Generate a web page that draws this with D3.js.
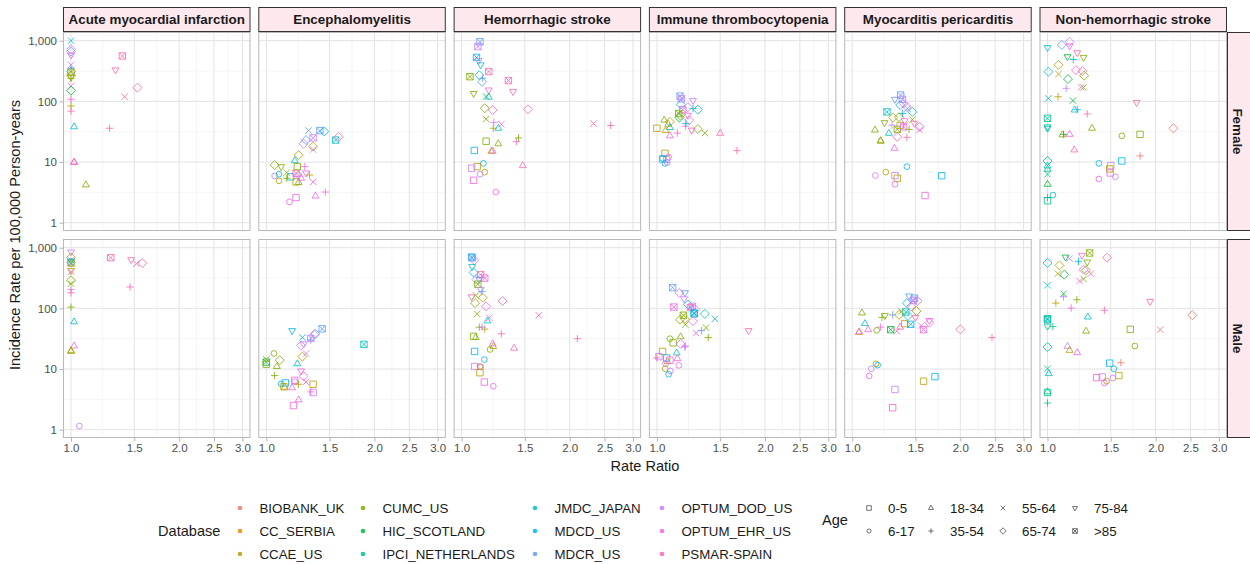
<!DOCTYPE html>
<html>
<head>
<meta charset="utf-8">
<script src="https://cdn.jsdelivr.net/npm/d3@7"></script>
<style>
body { margin: 0; background: white; }
text { font-family: "Liberation Sans", Arial, Helvetica, sans-serif; }
</style>
</head>
<body>
<div id="chart"></div>
<script>
// categories
const outcomes = ["Acute myocardial infarction", "Encephalomyelitis", "Hemorrhagic stroke",
    "Immune thrombocytopenia", "Myocarditis pericarditis", "Non-hemorrhagic stroke"];
const sexes = ["Female", "Male"];
const databases = ["BIOBANK_UK", "CC_SERBIA", "CCAE_US", "CUMC_US", "HIC_SCOTLAND", "IPCI_NETHERLANDS",
    "JMDC_JAPAN", "MDCD_US", "MDCR_US", "OPTUM_DOD_US", "OPTUM_EHR_US", "PSMAR-SPAIN"];
const ageGroups = ["0-5", "6-17", "18-34", "35-54", "55-64", "65-74", "75-84", ">85"];
const xTicks = [1.0, 1.5, 2.0, 2.5, 3.0];
const yTicks = [1, 10, 100, 1000];

// ggplot default hue palette for 12 levels
const dbColors = ["#F8766D", "#DE8C00", "#B79F00", "#7CAE00", "#00BA38", "#00C08B",
    "#00BFC4", "#00B4F0", "#619CFF", "#C77CFF", "#F564E3", "#FF64B0"];

// points: [database index, age group index, rate ratio, incidence rate]
const amiFemale = [[6,4,1.0,1000],[9,5,1.0,720],[8,5,1.0,660],[10,6,1.0,580],[9,4,1.0,400],[8,3,1.0,350],
    [7,5,1.0,310],[2,7,1.0,300],[3,5,1.0,270],[2,6,1.0,250],[3,3,1.0,240],[10,4,1.0,180],[4,5,1.0,150],
    [10,3,1.0,108],[2,3,1.0,84],[11,3,1.0,69],[6,2,1.02,38],[10,2,1.02,10],[11,2,1.02,9.8],[3,2,1.10,4.2],
    [11,3,1.28,36],[11,7,1.39,560],[11,6,1.33,330],[11,4,1.41,119],[11,5,1.53,168]];
const amiMale = [[9,6,1.0,850],[2,5,1.0,690],[8,4,1.0,620],[10,5,1.0,570],[3,7,1.0,560],[6,6,1.0,600],
    [2,6,1.0,420],[10,4,1.0,400],[3,5,1.0,290],[3,4,1.0,255],[9,3,1.0,205],[11,3,1.0,180],[3,3,1.0,105],
    [6,2,1.02,60],[10,2,1.02,24],[3,2,1.0,20],[2,2,1.0,19.5],[9,1,1.055,1.15],[11,7,1.29,685],
    [11,6,1.47,635],[11,4,1.52,545],[11,5,1.58,555],[11,3,1.46,225]];
const encFemale = [[3,5,1.055,8.9],[3,6,1.10,8.4],[9,1,1.055,5.9],[2,1,1.085,4.9],[3,4,1.14,6.7],
    [3,3,1.14,5.4],[6,1,1.085,6.3],[7,0,1.17,5.7],[6,2,1.20,10.5],[2,5,1.23,13],[11,7,1.21,6.5],
    [2,0,1.21,4.7],[3,2,1.23,4.6],[3,0,1.22,8.4],[10,2,1.25,5.4],[9,1,1.23,6.1],[10,6,1.29,6.6],
    [10,3,1.28,8.4],[2,3,1.32,6.1],[10,4,1.35,4.7],[10,1,1.16,2.2],[10,0,1.21,2.6],[10,2,1.37,2.75],
    [10,3,1.46,3.2],[9,5,1.27,20],[8,5,1.29,23],[8,4,1.31,33],[9,7,1.35,25],[9,4,1.35,16],[2,5,1.35,18],
    [8,7,1.41,33],[7,5,1.45,32],[6,7,1.56,23],[11,5,1.59,26]];
const encMale = [[4,7,1.0,13],[3,0,1.0,12],[3,4,1.0,14.5],[3,1,1.05,18],[3,5,1.09,14],[3,2,1.07,11],
    [3,3,1.055,7.8],[7,1,1.10,5.7],[7,0,1.13,5.9],[2,2,1.125,5.0],[2,0,1.12,5.1],[10,2,1.18,4.9],
    [7,6,1.18,43],[6,2,1.22,12.2],[10,0,1.20,6.5],[10,1,1.20,6.2],[2,3,1.23,5.6],[10,6,1.25,9.3],
    [10,5,1.27,7.6],[10,4,1.29,6.1],[2,5,1.26,16],[9,4,1.29,18],[9,5,1.25,24.5],[9,6,1.27,26],
    [7,4,1.26,33],[8,3,1.33,30],[9,7,1.33,32],[9,5,1.36,37],[8,5,1.37,38],[8,7,1.43,46],[10,0,1.19,2.5],
    [10,2,1.23,3.1],[2,0,1.35,5.6],[9,0,1.35,4.1],[10,3,1.33,4.2],[6,7,1.87,25.5]];
const hemFemale = [[8,7,1.125,960],[9,7,1.11,800],[7,7,1.10,530],[9,6,1.115,470],[6,6,1.13,400],
    [11,7,1.19,310],[3,7,1.055,255],[7,5,1.12,270],[8,3,1.145,240],[8,5,1.14,210],[11,7,1.35,220],
    [3,6,1.08,135],[10,6,1.19,154],[11,6,1.39,145],[4,4,1.17,120],[6,2,1.19,117],[3,5,1.16,77],
    [10,5,1.22,72],[11,5,1.53,74],[3,4,1.17,51],[10,4,1.29,42],[9,3,1.23,45],[2,3,1.225,36],
    [6,2,1.265,36],[11,4,2.33,43],[11,3,2.6,40],[3,3,1.44,25],[11,3,1.42,21.6],[3,0,1.17,22],
    [3,2,1.265,20],[2,2,1.21,15],[10,2,1.22,15.2],[7,0,1.085,15.5],[11,2,1.48,8.7],[7,1,1.15,9.5],
    [2,0,1.105,8.4],[9,0,1.066,7.9],[2,1,1.16,6.8],[9,1,1.125,6.3],[10,0,1.08,5.0],[10,1,1.245,3.2]];
const hemMale = [[7,7,1.066,700],[8,7,1.07,680],[9,5,1.085,620],[6,6,1.07,490],[7,5,1.08,390],
    [11,7,1.13,360],[10,7,1.16,315],[9,5,1.10,297],[8,6,1.12,300],[3,7,1.11,250],[9,6,1.13,205],
    [8,3,1.14,190],[11,6,1.066,155],[3,4,1.095,163],[2,5,1.145,150],[3,5,1.09,122],[10,5,1.17,108],
    [11,5,1.30,132],[11,4,1.64,77],[3,4,1.105,81],[10,4,1.195,70],[6,2,1.18,62],[3,3,1.12,49],
    [2,3,1.16,45.5],[9,3,1.14,49],[11,3,1.29,38],[11,3,2.10,31.6],[3,0,1.08,34.5],[3,2,1.095,33],
    [10,2,1.22,26],[2,2,1.225,23.5],[3,1,1.20,21],[11,2,1.40,22],[7,0,1.087,19.5],[7,1,1.157,14.3],
    [9,0,1.087,11],[2,1,1.125,11],[10,1,1.13,10.8],[2,0,1.125,8.7],[10,0,1.157,6.1],[10,1,1.225,5.2]];
const itpFemale = [[8,7,1.16,122],[9,7,1.17,110],[9,6,1.26,103],[7,5,1.165,89],[6,3,1.26,76],
    [7,5,1.30,73],[9,5,1.22,80],[10,7,1.18,73],[10,5,1.23,49],[10,6,1.22,59],[3,5,1.16,59],
    [4,5,1.155,54],[3,7,1.15,63],[3,4,1.36,30],[3,5,1.30,35],[11,6,1.25,33.6],[10,3,1.20,39],
    [6,3,1.205,43],[3,2,1.048,49],[2,2,1.075,42],[2,5,1.087,46],[6,2,1.087,37],[2,0,1.0,36],
    [2,2,1.057,33],[10,2,1.087,27],[10,3,1.14,30],[11,2,1.50,29.7],[11,3,1.67,15.4],[2,0,1.053,13.9],
    [6,1,1.037,11.5],[10,1,1.078,12],[9,0,1.064,11.2],[7,1,1.053,9.5],[9,1,1.068,9.8],[7,0,1.037,11.2]];
const itpMale = [[8,7,1.106,220],[10,5,1.154,179],[8,6,1.197,181],[9,6,1.19,144],[7,5,1.22,116],
    [10,7,1.115,105],[9,7,1.255,108],[9,5,1.28,96],[11,7,1.24,103],[6,7,1.27,81],[7,7,1.27,84],
    [6,5,1.36,81],[6,4,1.45,67],[3,7,1.185,77],[3,5,1.16,65],[2,5,1.197,67],[10,5,1.26,61.5],
    [3,4,1.20,54],[10,4,1.285,39],[3,4,1.37,48],[8,3,1.33,43],[3,3,1.39,33],[11,6,1.80,43],
    [3,2,1.164,34],[3,1,1.087,31.6],[3,0,1.11,27],[10,5,1.164,26],[10,3,1.20,24],[9,3,1.195,23],
    [6,2,1.135,18.4],[2,0,1.037,19.5],[11,3,1.0,15.2],[9,0,1.013,16],[7,0,1.064,15.2],[10,2,1.14,14.8],
    [2,2,1.07,13.2],[10,0,1.087,14],[10,1,1.15,11.5],[9,1,1.057,12.3],[2,1,1.055,10.1],[9,1,1.09,9.3],
    [7,1,1.078,8.2]];
const myoFemale = [[8,7,1.364,127],[8,6,1.315,108],[9,7,1.38,108],[9,5,1.39,92],[7,5,1.36,87],
    [10,5,1.42,81],[6,5,1.47,67],[8,4,1.425,76],[6,7,1.25,67],[7,3,1.38,63],[2,5,1.30,54],[3,5,1.35,55],
    [3,4,1.47,50],[10,6,1.40,48],[3,6,1.23,44.5],[11,6,1.49,43.5],[3,7,1.335,34.5],[10,7,1.39,38],
    [9,3,1.29,40.5],[3,3,1.44,34.5],[2,0,1.36,40],[10,5,1.54,38],[10,4,1.54,33.6],[3,2,1.157,33.6],
    [6,2,1.265,29.7],[11,5,1.335,26],[11,3,1.42,25.5],[2,2,1.20,22.5],[3,2,1.20,22],[10,2,1.31,16.8],
    [7,1,1.42,8.4],[9,1,1.16,6.0],[2,1,1.24,6.8],[9,0,1.315,5.95],[2,0,1.335,5.4],[10,1,1.315,4.3],
    [7,0,1.775,5.95],[10,0,1.595,2.8]];
const myoMale = [[8,6,1.44,160],[8,7,1.49,147],[9,7,1.48,135],[9,5,1.52,132],[7,5,1.42,122],
    [10,5,1.46,108],[6,7,1.41,87],[3,4,1.37,89],[3,5,1.51,90],[3,2,1.064,84],[3,6,1.233,76],
    [3,3,1.21,71],[8,3,1.296,78],[2,5,1.35,78],[6,5,1.43,75],[11,6,1.50,71],[10,6,1.64,63],
    [10,5,1.64,58],[6,2,1.085,56],[2,0,1.40,56],[7,7,1.455,54.5],[10,4,1.555,52],[10,7,1.58,44.5],
    [10,3,1.20,49],[11,2,1.36,49],[4,7,1.28,44.5],[11,4,1.33,42],[3,1,1.17,43.5],[10,2,1.108,44.5],
    [2,2,1.044,40],[10,2,1.046,41],[11,5,2.0,45],[11,3,2.45,33],[2,1,1.164,12.2],[7,1,1.177,11.6],
    [9,1,1.13,10.1],[10,1,1.115,7.7],[7,0,1.70,7.5],[2,0,1.58,6.3],[9,0,1.315,4.6],[10,0,1.296,2.3]];
const nhsFemale = [[6,6,1.0,770],[8,5,1.096,850],[9,5,1.152,960],[10,6,1.152,820],[11,6,1.21,634],
    [4,6,1.137,545],[3,6,1.26,530],[6,3,1.18,490],[2,5,1.073,400],[6,5,1.006,308],[2,4,1.073,282],
    [10,5,1.20,327],[11,5,1.25,316],[4,5,1.14,233],[3,5,1.265,265],[9,3,1.127,164],[10,4,1.24,170],
    [3,4,1.26,170],[6,4,1.006,112],[2,3,1.07,119],[4,4,1.177,103],[6,2,1.19,72],[7,3,1.21,73],
    [11,3,1.29,62],[11,6,1.77,96],[5,7,1.0,52.5],[6,6,1.0,36],[5,6,1.0,38],[3,2,1.33,36],
    [4,3,1.108,28.6],[3,2,1.10,28],[10,2,1.152,28.6],[11,2,1.187,15.8],[3,1,1.61,27],[3,0,1.81,28.6],
    [0,5,2.24,36],[0,3,1.81,12.6],[7,0,1.61,10.4],[7,1,1.39,9.5],[9,0,1.50,8.7],[2,0,1.49,7.7],
    [10,0,1.495,6.6],[10,1,1.39,5.25],[9,1,1.545,5.7],[5,5,1.0,10.4],[6,2,1.0,8.6],[5,2,1.0,7.6],
    [5,4,1.0,6.3],[4,2,1.0,4.3],[5,3,1.0,2.6],[5,0,1.0,2.3],[6,1,1.035,2.85]];
const nhsMale = [[6,5,1.0,560],[4,6,1.123,700],[9,4,1.152,660],[10,6,1.247,750],[3,7,1.31,817],
    [3,6,1.29,580],[11,5,1.464,685],[7,3,1.22,595],[2,5,1.08,511],[2,4,1.069,373],[4,5,1.113,359],
    [10,5,1.26,434],[3,5,1.28,425],[11,4,1.32,373],[10,4,1.228,282],[3,4,1.26,305],[6,4,1.0,240],
    [4,4,1.108,174],[9,3,1.108,155],[2,3,1.055,122],[3,3,1.207,139],[10,3,1.164,101],[11,3,1.44,93],
    [11,6,1.93,130],[0,5,2.53,77],[0,4,2.06,44.5],[6,2,1.295,72],[3,0,1.70,45],[5,7,1.0,67.5],
    [6,7,1.0,65],[5,6,1.0,51],[5,3,1.035,50],[3,2,1.28,42],[3,1,1.75,24],[5,5,1.0,23],[9,2,1.137,23.6],
    [2,2,1.152,20.3],[10,2,1.21,18.6],[5,4,1.0,10.1],[6,2,1.008,8.4],[0,3,1.60,12.7],[7,0,1.49,12.5],
    [7,1,1.53,10.1],[2,0,1.58,7.8],[11,0,1.37,7.2],[9,0,1.42,7.4],[9,1,1.52,7.1],[2,1,1.46,6.3],
    [10,1,1.44,5.9],[5,2,1.0,4.2],[5,0,1.0,4.1],[5,3,1.0,2.75]];

// rows = outcome, columns = sex
const panelRows = [[amiFemale, amiMale], [encFemale, encMale], [hemFemale, hemMale],
    [itpFemale, itpMale], [myoFemale, myoMale], [nhsFemale, nhsMale]];

// layout
const width = 1250;
const height = 564;
const panelLeft = 63;
const panelTop = 32;
const panelW = 187.5;
const panelH = 199;
const gapX = 7.8;
const gapY = 8;
const stripH = 25;
const stripW = 21;
const pointSize = 6.4;

const svg = d3.select("#chart")
    .append("svg").attr("width", width).attr("height", height);

svg.append("rect")
    .attr("width", width)
    .attr("height", height)
    .attr("fill", "white");

const x = d3.scaleLog().domain([0.95, 3.16]).range([0, panelW]);
const y = d3.scaleLog().domain([Math.pow(10, -0.137), Math.pow(10, 3.143)]).range([panelH, 0]);
const color = d3.scaleOrdinal().domain(d3.range(databases.length)).range(dbColors);

// minor breaks half way between majors (log space)
const xMinor = xTicks.slice(1).map((t, i) => Math.sqrt(t * xTicks[i]));
const yMinor = yTicks.slice(1).map((t, i) => Math.sqrt(t * yTicks[i]));

// open point shapes like R pch 0..7
function shapePath(age, s) {
    const h = s / 2;
    const r = s * 0.45;
    const t = s * 0.62;
    const a = s * 0.57;
    const d = h * 1.4;
    switch (age) {
        case 0: return `M${-h},${-h}H${h}V${h}H${-h}Z`;
        case 1: return `M${r},0A${r},${r} 0 1,1 ${-r},0A${r},${r} 0 1,1 ${r},0Z`;
        case 2: return `M0,${-t}L${t * 0.866},${t / 2}L${-t * 0.866},${t / 2}Z`;
        case 3: return `M${-a},0H${a}M0,${-a}V${a}`;
        case 4: return `M${-h},${-h}L${h},${h}M${-h},${h}L${h},${-h}`;
        case 5: return `M0,${-d}L${d},0L0,${d}L${-d},0Z`;
        case 6: return `M0,${t}L${t * 0.866},${-t / 2}L${-t * 0.866},${-t / 2}Z`;
        default: return `M${-h},${-h}H${h}V${h}H${-h}ZM${-h},${-h}L${h},${h}M${-h},${h}L${h},${-h}`;
    }
}

panelRows.forEach((pair, col) => {
    const px = panelLeft + col * (panelW + gapX);

    // strip on top
    svg.append("rect")
        .attr("x", px + 0.5)
        .attr("y", panelTop - stripH + 0.5)
        .attr("width", panelW - 1)
        .attr("height", stripH - 1)
        .attr("fill", "#FDE8EE")
        .attr("stroke", "#333333")
        .attr("stroke-width", 1);
    svg.append("text")
        .attr("x", px + panelW / 2)
        .attr("y", panelTop - stripH / 2)
        .attr("dy", "0.36em")
        .attr("text-anchor", "middle")
        .attr("font-size", "13.4px")
        .attr("font-weight", "bold")
        .attr("fill", "#1a1a1a")
        .text(outcomes[col]);

    pair.forEach((rows, row) => {
        const py = panelTop + row * (panelH + gapY);
        const g = svg.append("g").attr("transform", `translate(${px},${py})`);

        // minor grid
        g.selectAll(".xminor").data(xMinor).join("line")
            .attr("x1", d => x(d)).attr("x2", d => x(d))
            .attr("y1", 0).attr("y2", panelH)
            .attr("stroke", "#EEEEEE").attr("stroke-width", 0.6);
        g.selectAll(".yminor").data(yMinor).join("line")
            .attr("x1", 0).attr("x2", panelW)
            .attr("y1", d => y(d)).attr("y2", d => y(d))
            .attr("stroke", "#EEEEEE").attr("stroke-width", 0.6);

        // major grid
        g.selectAll(".xmajor").data(xTicks).join("line")
            .attr("x1", d => x(d)).attr("x2", d => x(d))
            .attr("y1", 0).attr("y2", panelH)
            .attr("stroke", "#E3E3E3").attr("stroke-width", 1);
        g.selectAll(".ymajor").data(yTicks).join("line")
            .attr("x1", 0).attr("x2", panelW)
            .attr("y1", d => y(d)).attr("y2", d => y(d))
            .attr("stroke", "#E3E3E3").attr("stroke-width", 1);

        // points
        g.selectAll(".pt").data(rows).join("path")
            .attr("transform", d => `translate(${x(d[2])},${y(d[3])})`)
            .attr("d", d => shapePath(d[1], pointSize))
            .attr("fill", "none")
            .attr("stroke", d => color(d[0]))
            .attr("stroke-width", 0.95)
            .attr("stroke-opacity", 0.85);

        // panel border
        g.append("rect")
            .attr("x", 0.5).attr("y", 0.5)
            .attr("width", panelW - 1).attr("height", panelH - 1)
            .attr("fill", "none")
            .attr("stroke", "#B8B8B8");

        // y axis on first column
        if (col === 0) {
            const ay = g.append("g")
                .call(d3.axisLeft(y).tickValues(yTicks).tickFormat(d3.format(",")).tickSize(3.5).tickPadding(2.5));
            ay.select(".domain").remove();
            ay.selectAll("line").attr("stroke", "#B3B3B3");
            ay.selectAll("text").attr("font-size", "11.5px").attr("fill", "#4D4D4D")
                .attr("font-family", "Liberation Sans, Arial, sans-serif");
        }

        // x axis on bottom row
        if (row === 1) {
            const ax = g.append("g")
                .attr("transform", `translate(0,${panelH})`)
                .call(d3.axisBottom(x).tickValues(xTicks).tickFormat(d3.format(".1f")).tickSize(3.5).tickPadding(2.5));
            ax.select(".domain").remove();
            ax.selectAll("line").attr("stroke", "#B3B3B3");
            ax.selectAll("text").attr("font-size", "11.5px").attr("fill", "#4D4D4D")
                .attr("font-family", "Liberation Sans, Arial, sans-serif");
        }

        // right strip on last column
        if (col === panelRows.length - 1) {
            svg.append("rect")
                .attr("x", px + panelW + 0.5)
                .attr("y", py + 0.5)
                .attr("width", stripW + 10)
                .attr("height", panelH - 1)
                .attr("fill", "#FDE8EE")
                .attr("stroke", "#333333");
            svg.append("text")
                .attr("transform", `translate(${px + panelW + stripW / 2},${py + panelH / 2}) rotate(90)`)
                .attr("dy", "0.36em")
                .attr("text-anchor", "middle")
                .attr("font-size", "13.4px")
                .attr("font-weight", "bold")
                .attr("fill", "#1a1a1a")
                .text(sexes[row]);
        }
    });
});

// axis titles
const plotRight = panelLeft + 6 * panelW + 5 * gapX;
svg.append("text")
    .attr("x", (panelLeft + plotRight) / 2)
    .attr("y", 471)
    .attr("text-anchor", "middle")
    .attr("font-size", "14.6px")
    .attr("fill", "#1a1a1a")
    .text("Rate Ratio");

svg.append("text")
    .attr("transform", `translate(20,${panelTop + panelH + gapY / 2}) rotate(-90)`)
    .attr("text-anchor", "middle")
    .attr("font-size", "14.6px")
    .attr("fill", "#1a1a1a")
    .text("Incidence Rate per 100,000 Person-years");

// database legend
const dbKeyX = [240, 363, 535, 662];
const dbKeyY = [508, 531, 554];
svg.append("text")
    .attr("x", 158)
    .attr("y", 531)
    .attr("dy", "0.35em")
    .attr("font-size", "14.6px")
    .attr("fill", "#1a1a1a")
    .text("Database");

const dbLegend = svg.selectAll(".dbkey").data(databases).join("g")
    .attr("transform", (d, i) => `translate(${dbKeyX[Math.floor(i / 3)]},${dbKeyY[i % 3]})`);
dbLegend.append("circle")
    .attr("r", 2.3)
    .attr("fill", (d, i) => color(i))
    .attr("fill-opacity", 0.85);
dbLegend.append("text")
    .attr("x", 19.5)
    .attr("dy", "0.35em")
    .attr("font-size", "13.3px")
    .attr("fill", "#1a1a1a")
    .text(d => d);

// age legend
const ageKeyX = [869, 931, 1003, 1075];
const ageKeyY = [508, 531];
svg.append("text")
    .attr("x", 822)
    .attr("y", 520)
    .attr("dy", "0.35em")
    .attr("font-size", "14.6px")
    .attr("fill", "#1a1a1a")
    .text("Age");

const ageLegend = svg.selectAll(".agekey").data(ageGroups).join("g")
    .attr("transform", (d, i) => `translate(${ageKeyX[Math.floor(i / 2)]},${ageKeyY[i % 2]})`);
ageLegend.append("path")
    .attr("d", (d, i) => shapePath(i, 4.6))
    .attr("fill", "none")
    .attr("stroke", "#4D4D4D")
    .attr("stroke-width", 0.8);
ageLegend.append("text")
    .attr("x", 19)
    .attr("dy", "0.35em")
    .attr("font-size", "13.3px")
    .attr("fill", "#1a1a1a")
    .text(d => d);
</script>
</body>
</html>
